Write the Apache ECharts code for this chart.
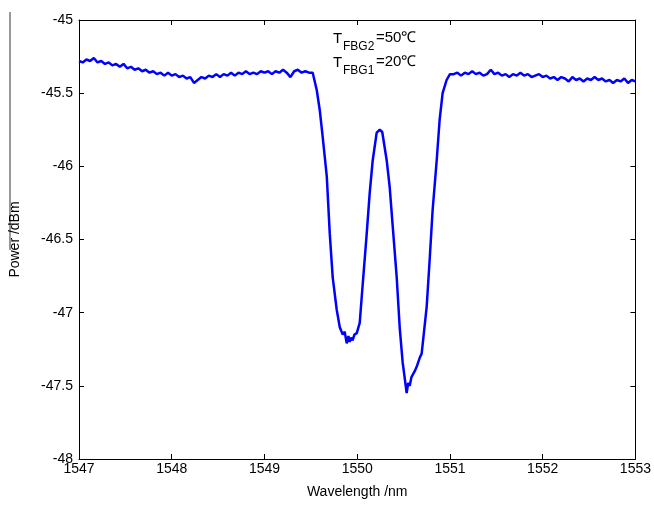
<!DOCTYPE html>
<html>
<head>
<meta charset="utf-8">
<script src="https://cdn.jsdelivr.net/npm/echarts@6/dist/echarts.min.js"></script>
<style>
html,body{margin:0;padding:0;background:#fff;overflow:hidden;}
#chart{width:654px;height:505px;}
</style>
</head>
<body>
<div id="chart"></div>
<script>
// Wavelength (nm)
var wavelength = [
1547.00,1547.04,1547.08,1547.12,1547.16,1547.20,1547.24,1547.28,1547.32,1547.36,
1547.40,1547.44,1547.48,1547.52,1547.56,1547.60,1547.64,1547.68,1547.72,1547.76,
1547.80,1547.84,1547.88,1547.92,1547.96,1548.00,1548.04,1548.08,1548.12,1548.16,
1548.20,1548.24,1548.28,1548.32,1548.36,1548.40,1548.44,1548.48,1548.52,1548.56,
1548.60,1548.64,1548.68,1548.72,1548.76,1548.80,1548.84,1548.88,1548.92,1548.96,
1549.00,1549.04,1549.08,1549.12,1549.16,1549.20,1549.24,1549.28,1549.32,1549.36,
1549.40,1549.44,1549.48,
1549.52,1549.564,1549.596,1549.628,1549.672,1549.704,1549.736,1549.779,1549.812,1549.844,
1549.865,1549.887,1549.905,1549.919,1549.935,1549.95,1549.97,1549.995,1550.027,1550.06,
1550.10,1550.135,1550.167,1550.21,1550.243,1550.27,1550.318,1550.35,1550.383,1550.426,
1550.458,1550.49,1550.515,1550.533,1550.55,1550.566,1550.585,1550.598,1550.62,1550.641,
1550.673,1550.695,1550.749,1550.781,1550.813,1550.857,1550.889,1550.921,1550.964,1551.00,
1551.04,1551.08,1551.12,1551.16,1551.20,1551.24,1551.28,1551.32,1551.36,1551.40,
1551.44,1551.48,1551.52,1551.56,1551.60,1551.64,1551.68,1551.72,1551.76,1551.80,
1551.84,1551.88,1551.92,1551.96,1552.00,1552.04,1552.08,1552.12,1552.16,1552.20,
1552.24,1552.28,1552.32,1552.36,1552.40,1552.44,1552.48,1552.52,1552.56,1552.60,
1552.64,1552.68,1552.72,1552.76,1552.80,1552.84,1552.88,1552.92,1552.96,1553.00
];
// Power (dBm)
var power = [
-45.28,-45.29,-45.27,-45.28,-45.26,-45.29,-45.28,-45.30,-45.29,-45.31,
-45.30,-45.32,-45.30,-45.33,-45.32,-45.34,-45.33,-45.35,-45.34,-45.36,
-45.35,-45.37,-45.36,-45.38,-45.36,-45.38,-45.37,-45.39,-45.38,-45.40,
-45.39,-45.43,-45.41,-45.39,-45.40,-45.38,-45.39,-45.37,-45.39,-45.37,
-45.38,-45.36,-45.38,-45.36,-45.37,-45.35,-45.37,-45.36,-45.37,-45.35,
-45.36,-45.35,-45.37,-45.35,-45.36,-45.34,-45.36,-45.39,-45.35,-45.34,
-45.36,-45.35,-45.36,
-45.36,-45.48,-45.615,-45.80,-46.07,-46.46,-46.76,-46.98,-47.10,-47.15,
-47.13,-47.21,-47.16,-47.20,-47.17,-47.19,-47.15,-47.14,-47.07,-46.80,
-46.48,-46.18,-45.96,-45.77,-45.75,-45.765,-45.96,-46.14,-46.41,-46.76,
-47.10,-47.34,-47.46,-47.55,-47.48,-47.50,-47.44,-47.45,-47.40,-47.37,
-47.31,-47.28,-46.96,-46.64,-46.30,-45.96,-45.68,-45.50,-45.41,-45.37,
-45.37,-45.36,-45.38,-45.36,-45.37,-45.35,-45.37,-45.36,-45.38,-45.37,
-45.34,-45.37,-45.36,-45.38,-45.37,-45.39,-45.37,-45.38,-45.36,-45.38,
-45.37,-45.39,-45.38,-45.37,-45.39,-45.38,-45.40,-45.39,-45.41,-45.39,
-45.40,-45.42,-45.39,-45.41,-45.40,-45.42,-45.40,-45.41,-45.39,-45.41,
-45.40,-45.42,-45.41,-45.43,-45.41,-45.42,-45.40,-45.43,-45.41,-45.42
];
var xTicks = [1547, 1548, 1549, 1550, 1551, 1552, 1553];
var yTicks = [-48, -47.5, -47, -46.5, -46, -45.5, -45];

var seriesData = wavelength.map(function (w, i) { return [w, power[i]]; });

var FONT = 'Liberation Sans, Arial, sans-serif';
var axisCommon = {
  axisLine: { show: true, lineStyle: { color: '#000', width: 1 } },
  axisTick: { show: true, inside: true, length: 5, lineStyle: { color: '#000' } },
  splitLine: { show: false }
};

var chart = echarts.init(document.getElementById('chart'), null, { renderer: 'canvas' });
chart.setOption({
  animation: false,
  backgroundColor: '#fff',
  grid: { left: 79, right: 17, top: 20, bottom: 46, containLabel: false },
  xAxis: [
    Object.assign({
      type: 'value', position: 'bottom',
      min: xTicks[0], max: xTicks[xTicks.length - 1], interval: 1,
      name: 'Wavelength /nm', nameLocation: 'middle', nameGap: 26,
      nameTextStyle: { fontFamily: FONT, fontSize: 14, color: '#000' },
      axisLabel: { fontFamily: FONT, fontSize: 14, color: '#000', margin: 3,
        formatter: function (v) { return String(v); } }
    }, axisCommon),
    Object.assign({
      type: 'value', position: 'top',
      min: xTicks[0], max: xTicks[xTicks.length - 1], interval: 1,
      axisLabel: { show: false }
    }, axisCommon)
  ],
  yAxis: [
    Object.assign({
      type: 'value', position: 'left',
      min: yTicks[0], max: yTicks[yTicks.length - 1], interval: 0.5,
      name: 'Power /dBm', nameLocation: 'middle', nameGap: 57, nameRotate: 90,
      nameTextStyle: { fontFamily: FONT, fontSize: 14, color: '#000' },
      axisLabel: { fontFamily: FONT, fontSize: 14, color: '#000', margin: 6,
        formatter: function (v) { return String(v); } }
    }, axisCommon),
    Object.assign({
      type: 'value', position: 'right',
      min: yTicks[0], max: yTicks[yTicks.length - 1], interval: 0.5,
      axisLabel: { show: false }
    }, axisCommon)
  ],
  series: [{
    type: 'line',
    data: seriesData,
    xAxisIndex: 0, yAxisIndex: 0,
    showSymbol: false,
    lineStyle: { color: '#0000ff', width: 2.5 },
    z: 1
  }],
  graphic: [
    { type: 'line', shape: { x1: 10, y1: 12, x2: 10, y2: 250 }, style: { stroke: '#333', lineWidth: 1 } },
    { type: 'text', left: 333, top: 31, style: { text: 'T', font: '15px ' + FONT, fill: '#000' } },
    { type: 'text', left: 343, top: 41, style: { text: 'FBG2', font: '12px ' + FONT, fill: '#000' } },
    { type: 'text', left: 376, top: 30, style: { text: '=50\u2103', font: '15px ' + FONT, fill: '#000' } },
    { type: 'text', left: 333, top: 55, style: { text: 'T', font: '15px ' + FONT, fill: '#000' } },
    { type: 'text', left: 343, top: 65, style: { text: 'FBG1', font: '12px ' + FONT, fill: '#000' } },
    { type: 'text', left: 376, top: 54, style: { text: '=20\u2103', font: '15px ' + FONT, fill: '#000' } }
  ]
});
</script>
</body>
</html>
